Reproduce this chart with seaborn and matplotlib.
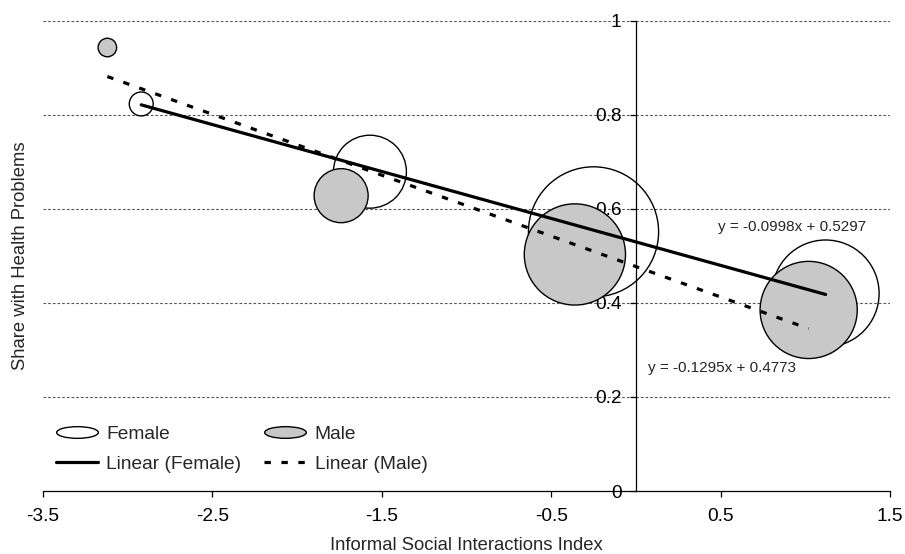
import numpy as np
import pandas as pd
import matplotlib
matplotlib.use("Agg")
import matplotlib.pyplot as plt
from matplotlib.lines import Line2D
from matplotlib.path import Path
import seaborn as sns

# bubbles (x = index, y = share, bubble = % of sample)
female_x = [-2.92, -1.57, -0.25, 1.12]
female_y = [0.823, 0.679, 0.551, 0.420]
female_share = [1.0, 9.3, 29.6, 20.0]

male_x = [-3.12, -1.74, -0.36, 1.02]
male_y = [0.943, 0.628, 0.503, 0.385]
male_share = [0.6, 5.1, 17.9, 16.5]

# trendline coefficients as printed on the chart (slope, intercept)
female_fit = (-0.0998, 0.5297)
male_fit = (-0.1295, 0.4773)

x_ticks = [-3.5, -2.5, -1.5, -0.5, 0.5, 1.5]
x_ticklabels = ["-3.5", "-2.5", "-1.5", "-0.5", "0.5", "1.5"]
y_ticks = [0, 0.2, 0.4, 0.6, 0.8, 1.0]
y_ticklabels = ["0", "0.2", "0.4", "0.6", "0.8", "1"]

fem = pd.DataFrame({"x": female_x, "y": female_y, "share": female_share})
mal = pd.DataFrame({"x": male_x, "y": male_y, "share": male_share})

sns.set_style("white")
plt.rcParams["font.family"] = ["Liberation Sans", "DejaVu Sans"]

fig = plt.figure(figsize=(9.05, 5.54), dpi=100)
ax = fig.add_axes([0.0475, 0.1137, 0.9359, 0.8489])

gray = "#c8c8c8"
size_kw = dict(size="share", sizes=(0, 8900), size_norm=(0, 30), legend=False, ax=ax)
sns.scatterplot(data=fem, x="x", y="y", color="white", edgecolor="black",
                linewidth=1.0, zorder=1, **size_kw)
ax.collections[-1].set_facecolor("none")
sns.scatterplot(data=mal, x="x", y="y", color=gray, edgecolor="black",
                linewidth=1.0, zorder=1.1, **size_kw)

# trendlines over the range of each group's data
dash = (0, (2, 3.3))
for df, (m, b), ls in [(fem, female_fit, "-"), (mal, male_fit, dash)]:
    xs = np.array([df.x.min(), df.x.max()])
    ax.plot(xs, m * xs + b, color="black", lw=2.3, linestyle=ls, zorder=3)

ax.text(0.921, 0.562, "y = -0.0998x + 0.5297", ha="center", va="center", fontsize=11)
ax.text(0.508, 0.262, "y = -0.1295x + 0.4773", ha="center", va="center", fontsize=11)

# dotted horizontal gridlines
for y in y_ticks[1:]:
    ax.axhline(y, color="#555555", lw=0.8, linestyle=(0, (2.4, 1.8)), zorder=0.5)

ax.set_xlim(-3.5, 1.5)
ax.set_ylim(0, 1)
ax.set_xticks(x_ticks, x_ticklabels)
ax.set_yticks(y_ticks, y_ticklabels)
ax.spines["left"].set_position(("data", 0))
ax.spines["top"].set_visible(False)
ax.spines["right"].set_visible(False)
for s in ["left", "bottom"]:
    ax.spines[s].set_color("black")
    ax.spines[s].set_linewidth(0.9)
ax.tick_params(axis="both", direction="out", length=4.3, width=0.9,
               labelsize=13.8, pad=6, colors="black")
ax.tick_params(axis="x", bottom=True, pad=8)
ax.tick_params(axis="y", left=True)

ax.set_xlabel("Informal Social Interactions Index", fontsize=13.3)
ax.set_ylabel("Share with Health Problems", fontsize=13.3)
ax.xaxis.set_label_coords(0.5, -0.097)
ax.yaxis.set_label_coords(-0.017, 0.5)

# legend with oval bubble markers
circ = Path.unit_circle()
oval = Path(circ.vertices * [1, 0.28], circ.codes)
handles = [
    Line2D([], [], ls="none", marker=oval, markersize=30, mfc="white", mec="black", mew=1.0),
    Line2D([], [], color="black", lw=2.3),
    Line2D([], [], ls="none", marker=oval, markersize=30, mfc=gray, mec="black", mew=1.0),
    Line2D([], [], color="black", lw=2.3, linestyle=dash),
]
labels = ["Female", "Linear (Female)", "Male", "Linear (Male)"]
ax.legend(handles, labels, ncol=2, frameon=False, loc="upper left",
          bbox_to_anchor=(0.0153, 0.139), borderaxespad=0, borderpad=0,
          handlelength=2.2, handletextpad=0.42, columnspacing=1.2,
          labelspacing=0.66, fontsize=13.8)

fig.savefig("out.png", dpi=100)
